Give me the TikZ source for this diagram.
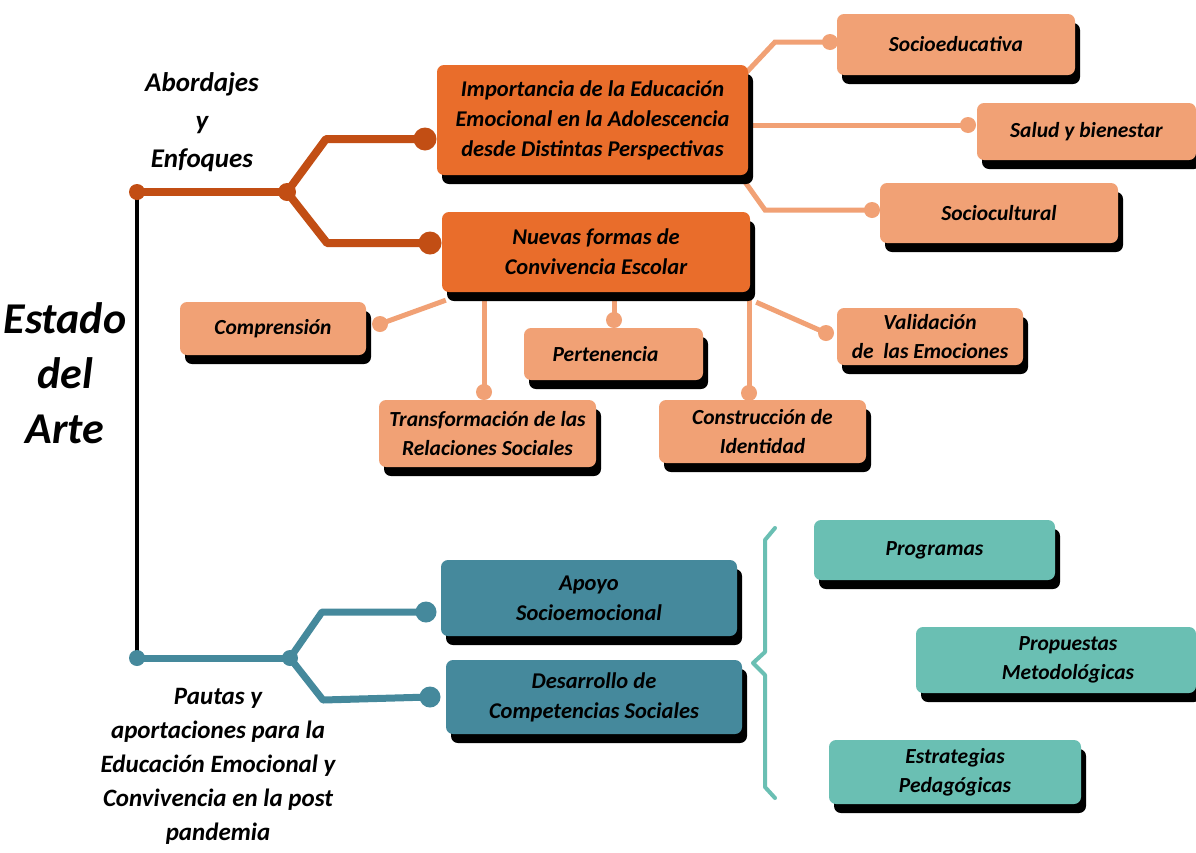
\documentclass[tikz,border=0pt]{standalone}
\usepackage{fontspec}
\setmainfont{Carlito}
\usetikzlibrary{shadows,backgrounds}

\definecolor{orangeBox}{HTML}{E96D2B}
\definecolor{orangeLine}{HTML}{C24E14}
\definecolor{peach}{HTML}{F1A175}
\definecolor{tealDark}{HTML}{45899C}
\definecolor{tealLight}{HTML}{6ABFB3}

\tikzset{
  box/.style={rectangle, rounded corners=7pt, align=center, inner sep=2pt,
    font=\fontsize{21.5}{29}\selectfont\bfseries\itshape,
    drop shadow={shadow xshift=5pt, shadow yshift=-9pt, fill=black, opacity=1}},
  mainbox/.style={box, fill=orangeBox, font=\fontsize{22.5}{30}\selectfont\bfseries\itshape},
  peachbox/.style={box, fill=peach},
  tealbox/.style={box, fill=tealDark, font=\fontsize{22.5}{30}\selectfont\bfseries\itshape},
  mintbox/.style={box, fill=tealLight},
  dot/.style={circle, inner sep=0pt, minimum size=#1},
  odot/.style={dot=#1, fill=orangeLine},
  tdot/.style={dot=#1, fill=tealDark},
  pdot/.style={dot=16, fill=peach},
  oline/.style={draw=orangeLine, line width=8pt},
  tline/.style={draw=tealDark, line width=7pt},
  pline/.style={draw=peach, line width=5pt},
  bline/.style={draw=black, line width=3.5pt},
  brace/.style={draw=tealLight, line width=4pt},
  label/.style={align=center, font=\fontsize{27}{38}\selectfont\bfseries\itshape},
}

\begin{document}
\begin{tikzpicture}[x=1pt,y=-1pt]
\useasboundingbox (0,0) rectangle (1196,852);

% titles
\node[align=center, font=\fontsize{44}{55}\selectfont\bfseries\itshape] (title) at (65,373) {Estado\\del\\Arte};
\node[label] (lblA) at (202,122) {Abordajes\\y\\Enfoques};
\node[label, font=\fontsize{25}{34}\selectfont\bfseries\itshape] (lblP) at (218,766)
  {Pautas y\\aportaciones para la\\Educación Emocional y\\Convivencia en la post\\pandemia};

% upper branch: orange boxes
\node[mainbox, minimum width=311, minimum height=110] (imp) at (592.5,120)
  {Importancia de la Educación\\Emocional en la Adolescencia\\desde Distintas Perspectivas};
\node[mainbox, minimum width=308, minimum height=80] (nue) at (596,252)
  {Nuevas formas de\\Convivencia Escolar};

\node[peachbox, minimum width=238, minimum height=61] (socE) at (956,44.5) {Socioeducativa};
\node[peachbox, minimum width=219, minimum height=57] (sal) at (1086.5,131.5) {Salud y bienestar};
\node[peachbox, minimum width=238, minimum height=60] (socC) at (999,213) {Sociocultural};

\node[peachbox, minimum width=186, minimum height=53] (com) at (273,328.5) {Comprensión};
\node[peachbox, minimum width=179, minimum height=52] (per) at (613.5,354) {Pertenencia\hspace*{16pt}};
\node[peachbox, minimum width=186, minimum height=57] (val) at (930,336.5) {Validación\\de\ \ las Emociones};
\node[peachbox, minimum width=217, minimum height=67] (tra) at (487.5,433.5) {Transformación de las\\Relaciones Sociales};
\node[peachbox, minimum width=207, minimum height=63] (con) at (762.5,431.5) {Construcción de\\Identidad};

% lower branch: teal boxes
\node[tealbox, minimum width=296, minimum height=76] (apo) at (589,598) {Apoyo\\Socioemocional};
\node[tealbox, minimum width=296, minimum height=74] (des) at (594,697) {Desarrollo de\\Competencias Sociales};

\node[mintbox, minimum width=241, minimum height=60] (pro) at (934.5,550) {Programas};
\node[mintbox, minimum width=280, minimum height=66] (prm) at (1056,660) {\hspace*{24pt}Propuestas\\\hspace*{24pt}Metodológicas};
\node[mintbox, minimum width=252, minimum height=64] (est) at (955,772) {Estrategias\\Pedagógicas};

% junction dots
\node[odot=16] (rootA) at (137,192) {};
\node[odot=18] (brA) at (287,192) {};
\node[odot=23] (dImp) at (425,139) {};
\node[odot=23] (dNue) at (430,243) {};

\node[tdot=16] (rootP) at (137,658) {};
\node[tdot=16] (brP) at (290,658) {};
\node[tdot=21] (dApo) at (426,612) {};
\node[tdot=21] (dDes) at (430,697) {};

\node[pdot] (dSocE) at (830,42) {};
\node[pdot] (dSal) at (968,125) {};
\node[pdot] (dSocC) at (872,210) {};
\node[pdot] (dCom) at (380,324) {};
\node[pdot] (dTra) at (484,392) {};
\node[pdot] (dPer) at (614,320) {};
\node[pdot] (dCon) at (749,393) {};
\node[pdot] (dVal) at (826,333) {};

\begin{scope}[on background layer]
  \fill[white] (0,0) rectangle (1196,852);
  % trunk
  \draw[bline] (rootA.center) -- (rootP.center);
  % orange tree
  \draw[oline] (rootA.center) -- (brA.center);
  \draw[oline, line join=round] (brA.center) -- (326,139) -- (dImp.center);
  \draw[oline, line join=round] (brA.center) -- (327,243) -- (dNue.center);
  % teal tree
  \draw[tline] (rootP.center) -- (brP.center);
  \draw[tline, line join=round] (brP.center) -- (322,612) -- (dApo.center);
  \draw[tline, line join=round] (brP.center) -- (323,700) -- (dDes.center);
  % perspectives
  \draw[pline] ([xshift=-4pt,yshift=-10pt]imp.north east) -- (775,42) -- (dSocE.center);
  \draw[pline] ([xshift=-4pt]imp.east |- dSal.center) -- (dSal.center);
  \draw[pline] ([xshift=-8pt]imp.south east) -- (765,210) -- (dSocC.center);
  % new forms of coexistence
  \draw[pline] ([xshift=4pt,yshift=-8pt]nue.south west) -- (dCom.center);
  \draw[pline] (dTra.center |- nue.south) -- (dTra.center);
  \draw[pline] (dPer.center |- nue.south) -- (dPer.center);
  \draw[pline] (dCon.center |- nue.south) -- (dCon.center);
  \draw[pline] ([xshift=6pt,yshift=-10pt]nue.south east) -- (dVal.center);
\end{scope}

% brace grouping the support strategies
\draw[brace, line join=round, line cap=round]
  (775,528) -- (765,540) -- (765,652) -- (753,663) -- (765,675) -- (765,787) -- (775,798);
\end{tikzpicture}
\end{document}
